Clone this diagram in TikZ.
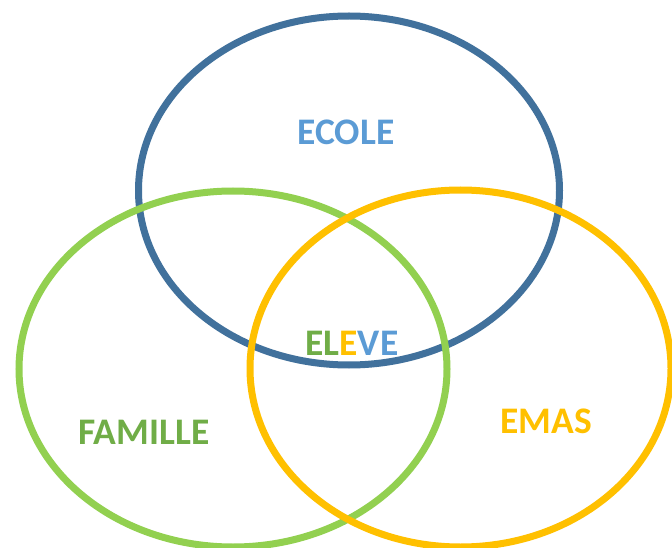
\documentclass[tikz,border=0pt]{standalone}
\usepackage{fontspec}
\setmainfont{Carlito}
\usetikzlibrary{shapes.geometric}
\definecolor{ringblue}{HTML}{41719C}
\definecolor{ringgreen}{HTML}{92D050}
\definecolor{ringorange}{HTML}{FFC000}
\definecolor{txtblue}{HTML}{5B9BD5}
\definecolor{txtgreen}{HTML}{70AD47}
\definecolor{txtorange}{HTML}{FFC000}
\tikzset{
  ring/.style={ellipse, draw, line width=7pt, inner sep=0pt, fill=none},
  lbl/.style={font=\bfseries\fontsize{37.5}{42}\selectfont, inner sep=0pt}
}
\begin{document}
\begin{tikzpicture}[x=1pt,y=-1pt]
\useasboundingbox (0,0) rectangle (672,548);
\fill[white] (0,0) rectangle (672,548);
\node[ring, draw=ringblue, minimum width=421pt, minimum height=349pt] (ecole) at (349,190.5) {};
\node[ring, draw=ringgreen, minimum width=428pt, minimum height=356pt] (famille) at (233,369) {};
\node[ring, draw=ringorange, minimum width=421pt, minimum height=357pt] (emas) at (460.5,368.5) {};
\node[lbl, text=txtblue] (tecole) at (346,132) {ECOLE};
\node[lbl, text=txtgreen] (tfamille) at (144,432) {FAMILLE};
\node[lbl, text=txtorange] (temas) at (546,421) {EMAS};
\node[lbl] (televe) at (352,343) {\textcolor{txtgreen}{EL}\textcolor{txtorange}{E}\textcolor{txtblue}{VE}};
\end{tikzpicture}
\end{document}
